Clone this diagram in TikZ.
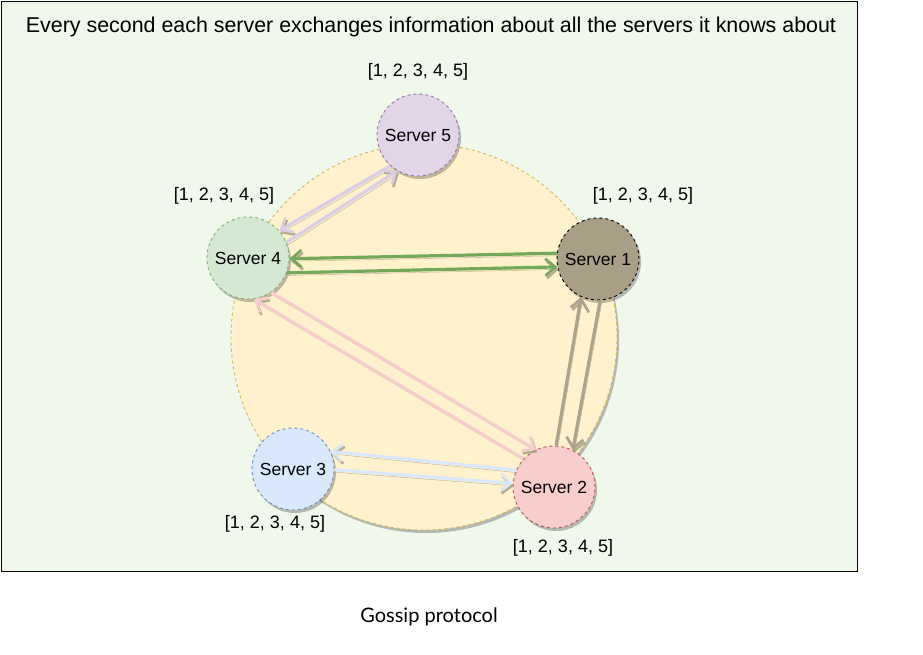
\documentclass[tikz,border=0pt]{standalone}
\usepackage{fontspec}
\setmainfont{Liberation Sans}
\newfontfamily\capfont{Lato}
\usetikzlibrary{arrows.meta,shadows}
\definecolor{bg}{HTML}{F0F7EB}
\definecolor{ringfill}{HTML}{FFF2CC}
\definecolor{ringdraw}{HTML}{D6B656}
\definecolor{sfivefill}{HTML}{E1D5E7}
\definecolor{sfivedraw}{HTML}{9673A6}
\definecolor{sfourfill}{HTML}{D5E8D4}
\definecolor{sfourdraw}{HTML}{82B366}
\definecolor{greenline}{HTML}{74A85A}
\definecolor{sonefill}{HTML}{A99F87}
\definecolor{sthreefill}{HTML}{DAE8FC}
\definecolor{sthreedraw}{HTML}{6C8EBF}
\definecolor{stwofill}{HTML}{F8CECC}
\definecolor{stwodraw}{HTML}{B85450}
\definecolor{tanline}{HTML}{ADA28A}
\definecolor{lavline}{HTML}{DACDE6}
\definecolor{shadowc}{HTML}{A89C7E}
\begin{document}
\begin{tikzpicture}[x=1pt,y=-1pt,
  server/.style={circle, minimum size=82pt, inner sep=0pt, dashed, line width=0.9pt,
    font=\fontsize{17.5}{20}\selectfont,
    drop shadow={shadow xshift=2pt, shadow yshift=-3pt, fill=black, opacity=0.25}},
  lst/.style={font=\fontsize{18}{21}\selectfont, inner sep=0pt},
  conn/.style={line width=3.2pt, -{Straight Barb[length=10pt,width=17pt,line width=2.6pt]},
    preaction={draw=shadowc, opacity=0.8, transform canvas={shift={(1.5pt,-2.5pt)}}}},
]
\useasboundingbox (0,0) rectangle (923,655);
\node[draw=black, fill=bg, line width=0.9pt, minimum width=856pt, minimum height=570pt, anchor=north west, inner sep=0pt] (frame) at (1,1) {};
\node[font=\fontsize{21.4}{25}\selectfont] (title) at (431,27) {Every second each server exchanges information about all the servers it knows about};
\node[circle, fill=ringfill, draw=ringdraw, dashed, line width=0.9pt, minimum size=386pt, inner sep=0pt,
  drop shadow={shadow xshift=2pt, shadow yshift=-3pt, fill=black, opacity=0.25}] (ring) at (424,337) {};

\node[server, fill=sfivefill, draw=sfivedraw] (S5) at (418,135) {Server 5};
\node[server, fill=sfourfill, draw=sfourdraw] (S4) at (248,258) {Server 4};
\node[server, fill=sonefill, draw=black] (S1) at (598,259) {Server 1};
\node[server, fill=sthreefill, draw=sthreedraw] (S3) at (293,469) {Server 3};
\node[server, fill=stwofill, draw=stwodraw] (S2) at (554,487) {Server 2};

\node[lst] (L5) at (418,72) {[1, 2, 3, 4, 5]};
\node[lst] (L4) at (224,196) {[1, 2, 3, 4, 5]};
\node[lst] (L1) at (643,196) {[1, 2, 3, 4, 5]};
\node[lst] (L3) at (275,524) {[1, 2, 3, 4, 5]};
\node[lst] (L2) at (563,548) {[1, 2, 3, 4, 5]};

% S5 <-> S4
\draw[conn, lavline] (S5.228) -- (S4.41);
\draw[conn, lavline] (S4.22) -- (S5.240);
% S1 <-> S4
\draw[conn, greenline] (S1.172) -- (S4.-1);
\draw[conn, greenline] (S4.-21) -- (S1.191);
% S1 <-> S2
\draw[conn, tanline] (S2.87) -- (S1.246);
\draw[conn, tanline] (S1.273) -- (S2.63);
% S4 <-> S2
\draw[conn, stwofill] (S2.137) -- (S4.278);
\draw[conn, stwofill] (S4.304) -- (S2.116);
% S3 <-> S2
\draw[conn, sthreefill] (S2.156) -- (S3.25);
\draw[conn, sthreefill] (S3.-1) -- (S2.175);

\node[font=\capfont\fontsize{20}{24}\selectfont] (caption) at (429,617) {Gossip protocol};
\end{tikzpicture}
\end{document}
